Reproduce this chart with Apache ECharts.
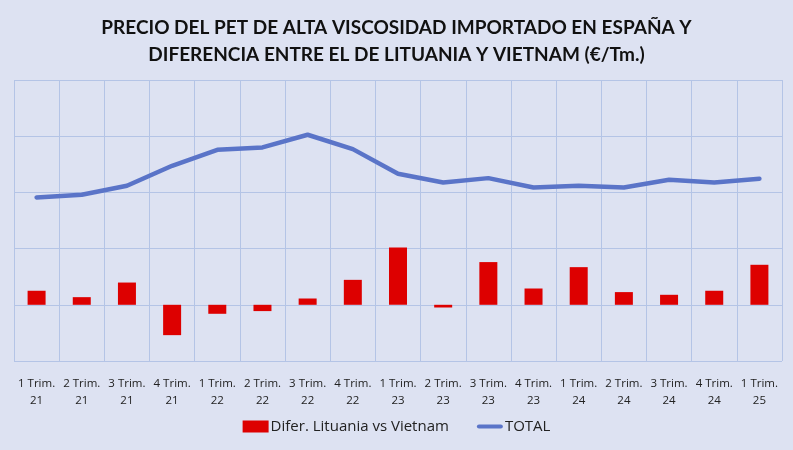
<!DOCTYPE html>
<html>
<head>
<meta charset="utf-8">
<script src="https://cdn.jsdelivr.net/npm/echarts@6/dist/echarts.min.js"></script>
<style>
  html, body { margin: 0; padding: 0; background: #dde2f2; }
  #chart { width: 793px; height: 450px; }
</style>
</head>
<body>
<div id="chart"></div>
<script>
// trimestres
const categories = ['1 Trim.\n21', '2 Trim.\n21', '3 Trim.\n21', '4 Trim.\n21',
  '1 Trim.\n22', '2 Trim.\n22', '3 Trim.\n22', '4 Trim.\n22',
  '1 Trim.\n23', '2 Trim.\n23', '3 Trim.\n23', '4 Trim.\n23',
  '1 Trim.\n24', '2 Trim.\n24', '3 Trim.\n24', '4 Trim.\n24', '1 Trim.\n25'];
// diferencia Lituania - Vietnam (€/Tm.)
const diferLituaniaVietnam = [125, 68, 198, -270, -80, -56, 56, 222, 510, -24, 380, 145, 335, 113, 89, 125, 356];
// precio total importado (€/Tm.)
const total = [955, 979, 1059, 1237, 1379, 1400, 1513, 1385, 1166, 1088, 1127, 1044, 1059, 1044, 1112, 1088, 1121];

const chart = echarts.init(document.getElementById('chart'));
chart.setOption({
  backgroundColor: '#dde2f2',
  title: {
    text: 'PRECIO DEL PET DE ALTA VISCOSIDAD IMPORTADO EN ESPAÑA Y\nDIFERENCIA ENTRE EL DE LITUANIA Y VIETNAM (€/Tm.)',
    left: 'center',
    top: 9,
    textStyle: { fontFamily: 'Lato', fontWeight: 'bold', fontSize: 19, lineHeight: 27, color: '#111' }
  },
  legend: {
    bottom: 11,
    left: 'center',
    itemGap: 28,
    itemWidth: 26,
    itemHeight: 12,
    textStyle: { fontFamily: 'Open Sans', fontSize: 15, color: '#222', padding: [0, 0, 0, -3] },
    data: [
      { name: 'Difer. Lituania vs Vietnam', icon: 'rect' },
      { name: 'TOTAL', icon: 'path://M2,5 L28,5 A2,2 0 0 1 28,10 L2,10 A2,2 0 0 1 2,5 Z', itemStyle: { color: '#5a74c8' } }
    ]
  },
  grid: { left: 14, right: 11, top: 80, bottom: 89 },
  xAxis: {
    type: 'category',
    data: categories,
    boundaryGap: true,
    axisLine: { show: false },
    axisTick: { show: false },
    splitLine: { show: true, lineStyle: { color: '#b4c4e6', width: 1 } },
    axisLabel: { fontFamily: 'Open Sans', fontSize: 11.5, color: '#222', lineHeight: 17, margin: 14, interval: 0 }
  },
  yAxis: {
    type: 'value',
    min: -500,
    max: 2000,
    interval: 500,
    axisLabel: { show: false },
    axisLine: { show: false },
    axisTick: { show: false },
    splitLine: { lineStyle: { color: '#b4c4e6', width: 1 } }
  },
  series: [
    {
      name: 'Difer. Lituania vs Vietnam',
      type: 'bar',
      data: diferLituaniaVietnam,
      barWidth: 18,
      itemStyle: { color: '#dd0000' }
    },
    {
      name: 'TOTAL',
      type: 'line',
      data: total,
      symbol: 'none',
      lineStyle: { color: '#5a74c8', width: 4.5, cap: 'round' },
      itemStyle: { color: '#5a74c8' }
    }
  ]
});
</script>
</body>
</html>
